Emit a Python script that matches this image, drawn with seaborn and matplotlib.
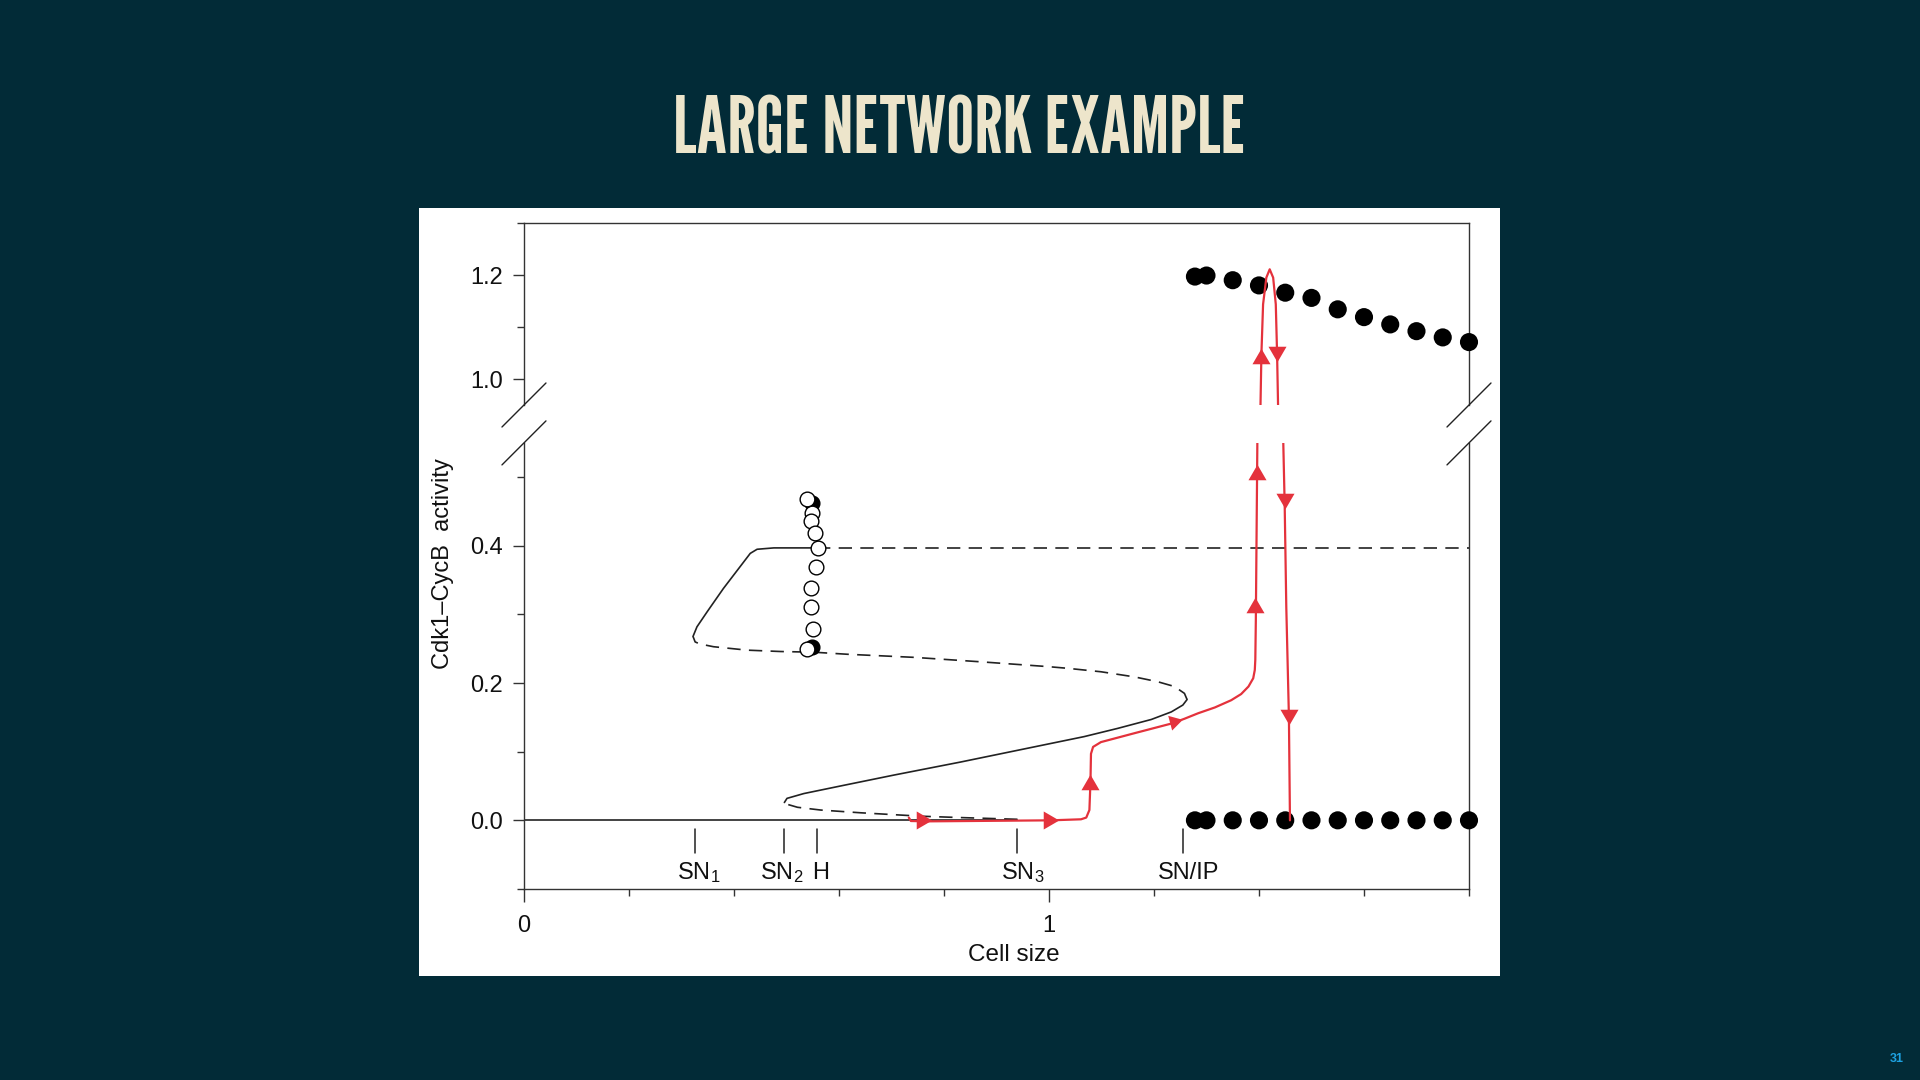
import numpy as np
import matplotlib
matplotlib.use("Agg")
import matplotlib.pyplot as plt
from matplotlib.patches import Rectangle
from matplotlib.lines import Line2D
import seaborn as sns

# --- values (cell size vs Cdk1-CycB activity) ---

# stable low branch
low_x = [0.0, 0.94]
low_y = [0.0, 0.0]

# unstable branch SN3 -> SN2
sn3_sn2_x = [0.940, 0.832, 0.756, 0.641, 0.565, 0.521, 0.503, 0.496]
sn3_sn2_y = [0.0015, 0.004, 0.006, 0.011, 0.015, 0.019, 0.023, 0.026]

# stable middle branch SN2 -> SN/IP
mid_x = [0.496, 0.501, 0.533, 0.609, 0.705, 0.832, 0.959, 1.067, 1.131,
         1.195, 1.233, 1.255, 1.263]
mid_y = [0.026, 0.032, 0.039, 0.051, 0.066, 0.085, 0.105, 0.122, 0.134,
         0.147, 0.158, 0.168, 0.176]

# unstable branch SN/IP -> SN1
back_x = [1.263, 1.258, 1.239, 1.207, 1.163, 1.099, 1.036, 0.998, 0.870,
          0.743, 0.616, 0.552, 0.489, 0.425, 0.361, 0.335, 0.326, 0.322]
back_y = [0.176, 0.185, 0.195, 0.202, 0.209, 0.2165, 0.2215, 0.224, 0.231,
          0.2375, 0.242, 0.245, 0.246, 0.248, 0.253, 0.257, 0.260, 0.268]

# stable upper branch SN1 -> H
up_x = [0.322, 0.3295, 0.349, 0.380, 0.412, 0.431, 0.444, 0.476, 0.558]
up_y = [0.268, 0.282, 0.304, 0.338, 0.370, 0.389, 0.395, 0.397, 0.397]

# unstable steady state after H
after_h_x = [0.558, 1.8]
after_h_y = [0.397, 0.397]

# unstable periodic orbits near H (open) and the filled ones behind them
open_x = [0.5477, 0.5458, 0.554, 0.5605, 0.5553, 0.547, 0.547, 0.551, 0.5395, 0.5395]
open_y = [0.448, 0.4355, 0.419, 0.397, 0.369, 0.338, 0.3105, 0.279, 0.468, 0.249]
closed_x = [0.549, 0.549]
closed_y = [0.462, 0.253]

# stable limit cycle: max and min
cyc_x = [1.278, 1.30, 1.35, 1.40, 1.45, 1.50, 1.55, 1.60, 1.65, 1.70, 1.75, 1.80]
cyc_min = [0.0] * 12
cyc_max = [1.197, 1.199, 1.190, 1.180, 1.166, 1.156, 1.134, 1.119, 1.105,
           1.092, 1.080, 1.071]

# red trajectory
traj_x = [0.733, 0.737, 0.768, 1.004, 1.061, 1.071, 1.077, 1.079, 1.080, 1.084,
          1.099, 1.163, 1.233, 1.258, 1.284, 1.316, 1.347, 1.366, 1.380, 1.389,
          1.392, 1.393, 1.394, 1.397]
traj_y = [0.004, -0.001, -0.0015, 0.0, 0.0015, 0.004, 0.015, 0.056, 0.097, 0.107,
          0.114, 0.127, 0.141, 0.148, 0.156, 0.1645, 0.175, 0.184, 0.195, 0.207,
          0.219, 0.234, 0.292, 0.56]
drop_x = [1.446, 1.449, 1.452, 1.457, 1.459]
drop_y = [0.56, 0.457, 0.311, 0.151, 0.0]
peak_x = [1.4027, 1.4046, 1.4078, 1.414, 1.4204, 1.427, 1.432, 1.4345, 1.4365]
peak_y = [0.94, 1.0475, 1.1437, 1.195, 1.211, 1.195, 1.1437, 1.0475, 0.94]

# arrowheads on the trajectory (angle 0 = pointing up)
arrow_x = [0.762, 1.004, 1.078, 1.242, 1.393, 1.397, 1.449, 1.457]
arrow_y = [0.0, 0.0, 0.056, 0.145, 0.314, 0.508, 0.465, 0.151]
arrow_dir = [-90, -90, 0, -75, 0, 0, 180, 180]
arrow_hi_x = [1.4046, 1.435]
arrow_hi_y = [1.044, 1.0475]
arrow_hi_dir = [0, 180]

# bifurcation points marked under the curve
bif_x = [0.325, 0.495, 0.558, 0.939, 1.255]
bif_label = ["SN$_1$", "SN$_2$", "H", "SN$_3$", "SN/IP"]
bif_label_x = [0.333, 0.490, 0.565, 0.950, 1.265]

BG = "#022B37"
CREAM = "#EDE5CB"
RED = "#E4323C"
INK = "#222222"

sns.set_theme(style="ticks")
plt.rcParams["font.family"] = ["Liberation Sans", "DejaVu Sans"]
plt.rcParams["mathtext.default"] = "regular"
plt.rcParams["axes.linewidth"] = 1.0
plt.rcParams["axes.edgecolor"] = "#333333"


def tri(angle):
    """equilateral-ish triangle marker, rotated (degrees, 0 = up)"""
    base = np.array([[-0.5, -0.43], [0.5, -0.43], [0.0, 0.43]])
    a = np.deg2rad(angle)
    rot = np.array([[np.cos(a), -np.sin(a)], [np.sin(a), np.cos(a)]])
    return base @ rot.T


fig = plt.figure(figsize=(19.2, 10.8), dpi=100, facecolor=BG)
fig.patches.append(Rectangle((0.2182, 0.0963), 0.5630, 0.7111,
                             transform=fig.transFigure, facecolor="white",
                             edgecolor="none", zorder=-1))

ax_lo = fig.add_axes([0.2729, 0.1769, 0.4922, 0.4130])
ax_hi = fig.add_axes([0.2729, 0.625, 0.4922, 0.1685])

dash = (0, (8, 5))
solid_kw = dict(color=INK, lw=1.2, sort=False, estimator=None)

# black bifurcation curve
sns.lineplot(x=low_x, y=low_y, ax=ax_lo, **solid_kw)
sns.lineplot(x=sn3_sn2_x, y=sn3_sn2_y, ax=ax_lo, linestyle=dash, **solid_kw)
sns.lineplot(x=mid_x, y=mid_y, ax=ax_lo, **solid_kw)
sns.lineplot(x=back_x, y=back_y, ax=ax_lo, linestyle=dash, **solid_kw)
sns.lineplot(x=up_x, y=up_y, ax=ax_lo, **solid_kw)
sns.lineplot(x=after_h_x, y=after_h_y, ax=ax_lo, linestyle=dash, **solid_kw)

# periodic orbits
sns.scatterplot(x=closed_x, y=closed_y, ax=ax_lo, s=112, color="black",
                edgecolor="black", linewidth=1.0, zorder=5)
sns.scatterplot(x=open_x, y=open_y, ax=ax_lo, s=112, color="white",
                edgecolor="black", linewidth=1.0, zorder=6)
sns.scatterplot(x=cyc_x, y=cyc_min, ax=ax_lo, s=170, color="black",
                edgecolor="none", zorder=5, clip_on=False)
sns.scatterplot(x=cyc_x, y=cyc_max, ax=ax_hi, s=170, color="black",
                edgecolor="none", zorder=5, clip_on=False)

# red trajectory
red_kw = dict(color=RED, lw=1.6, sort=False, estimator=None, zorder=7)
sns.lineplot(x=traj_x, y=traj_y, ax=ax_lo, **red_kw)
sns.lineplot(x=drop_x, y=drop_y, ax=ax_lo, **red_kw)
sns.lineplot(x=peak_x, y=peak_y, ax=ax_hi, **red_kw)
for x, y, d in zip(arrow_x, arrow_y, arrow_dir):
    ax_lo.plot([x], [y], marker=tri(d), ms=13, color=RED, mec=RED, mew=0,
               ls="none", zorder=8)
for x, y, d in zip(arrow_hi_x, arrow_hi_y, arrow_hi_dir):
    ax_hi.plot([x], [y], marker=tri(d), ms=13, color=RED, mec=RED, mew=0,
               ls="none", zorder=8)

# bifurcation markers
for x, lx, lab in zip(bif_x, bif_label_x, bif_label):
    ax_lo.plot([x, x], [-0.013, -0.047], color=INK, lw=1.1)
    ax_lo.text(lx, -0.085, lab, ha="center", va="baseline", fontsize=17,
               color="#111111")

# axes limits and ticks
ax_lo.set_xlim(0, 1.8)
ax_hi.set_xlim(0, 1.8)
ax_lo.set_ylim(-0.1, 0.55)
ax_hi.set_ylim(0.95, 1.3)

ax_lo.set_xticks([0, 1])
ax_lo.set_xticklabels(["0", "1"])
ax_lo.set_xticks(np.arange(0.2, 1.81, 0.2), minor=True)
ax_lo.set_yticks([0.0, 0.2, 0.4])
ax_lo.set_yticklabels(["0.0", "0.2", "0.4"])
ax_lo.set_yticks([-0.1, 0.1, 0.3, 0.5], minor=True)
ax_hi.set_yticks([1.0, 1.2])
ax_hi.set_yticklabels(["1.0", "1.2"])
ax_hi.set_yticks([1.1, 1.3], minor=True)
ax_hi.set_xticks([])

for ax in (ax_lo, ax_hi):
    ax.set_facecolor("white")
    ax.set_xlabel("")
    ax.set_ylabel("")
    ax.tick_params(axis="y", which="major", direction="out", length=8,
                   width=1.0, pad=7, labelsize=17, colors="#333333",
                   labelcolor="#111111", right=False)
    ax.tick_params(axis="y", which="minor", direction="out", length=5,
                   width=1.0, colors="#333333", right=False)
ax_lo.tick_params(axis="x", which="major", direction="out", length=9,
                  width=1.0, pad=10, labelsize=17, colors="#333333",
                  labelcolor="#111111", top=False)
ax_lo.tick_params(axis="x", which="minor", direction="out", length=5,
                  width=1.0, colors="#333333", top=False)

ax_lo.spines["top"].set_visible(False)
ax_hi.spines["bottom"].set_visible(False)
for ax in (ax_lo, ax_hi):
    for sp in ax.spines.values():
        sp.set_color("#333333")
        sp.set_linewidth(1.0)

# axis-break slashes
pos_lo = ax_lo.get_position()
pos_hi = ax_hi.get_position()
dx, dy = 22 / 1920, 22 / 1080
for xc in (pos_lo.x0, pos_lo.x1):
    for yc in (pos_hi.y0, pos_lo.y1):
        fig.add_artist(Line2D([xc - dx, xc + dx], [yc - dy, yc + dy],
                              transform=fig.transFigure, color="#222222",
                              lw=1.0))

# axis labels
fig.text(443 / 1920, 1 - 564 / 1080, "Cdk1\u2013CycB  activity", rotation=90,
         ha="center", va="center", fontsize=17, color="#111111")
fig.text(1014 / 1920, 1 - 955 / 1080, "Cell size", ha="center", va="center",
         fontsize=17.5, color="#111111")

# slide title and page number
title = fig.text(0.5, 1 - 132 / 1080, "LARGE NETWORK EXAMPLE", ha="center",
                 va="center", color=CREAM, fontsize=60, fontweight="bold",
                 family=["League Gothic", "Roboto Condensed",
                         "Liberation Sans Narrow", "DejaVu Sans"],
                 fontstretch="condensed")
fig.canvas.draw()
w = title.get_window_extent().width
title.set_fontsize(60 * 574 / w)

fig.text(1897 / 1920, 1 - 1059 / 1080, "31", ha="center", va="center",
         fontsize=9, fontweight="bold", color="#1DA1E0")

fig.savefig("out.png", dpi=100, facecolor=BG)
